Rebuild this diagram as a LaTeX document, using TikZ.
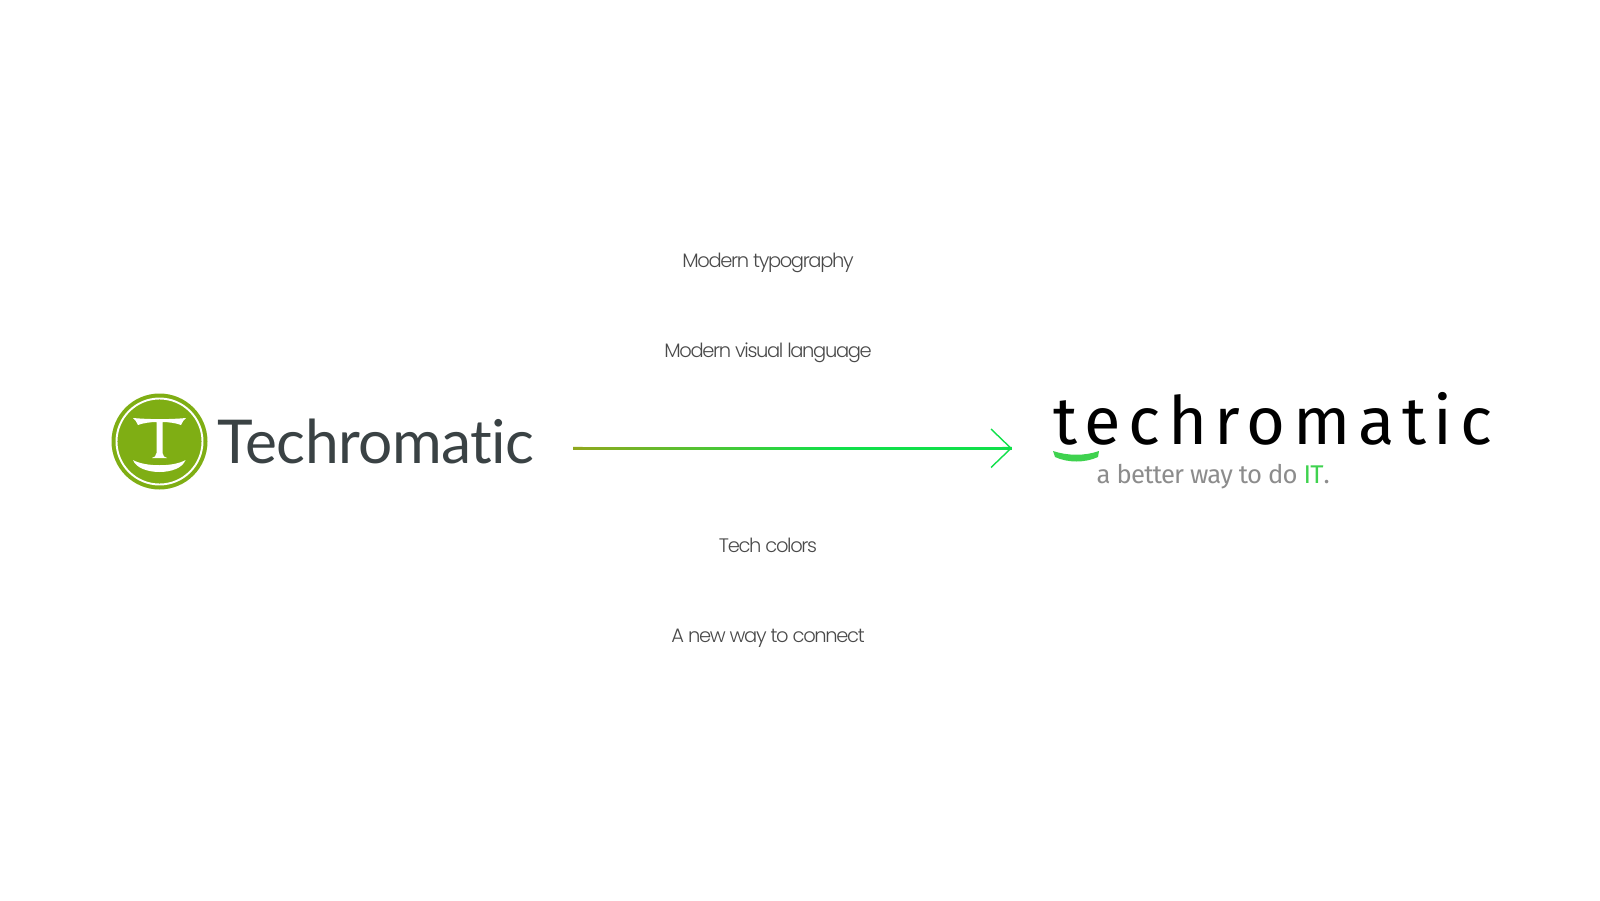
\documentclass[tikz,border=0pt]{standalone}
\usepackage{fontspec}
\usepackage{xcolor}
\usetikzlibrary{positioning,calc}
\newfontfamily\oldlogofont[LetterSpace=-1,Ligatures=NoCommon]{Lato}
\newfontfamily\newlogofont[LetterSpace=11.5,Ligatures=NoCommon]{Fira Sans}
\newfontfamily\tagfont[LetterSpace=-3]{Fira Sans}
\newfontfamily\capfont[LetterSpace=-7]{Poppins Light}
\definecolor{oldgreen}{HTML}{7FAE14}
\definecolor{newgreen}{HTML}{3FD24F}
\definecolor{arrowgreen}{HTML}{10E04A}
\definecolor{arrowolive}{HTML}{8FA81E}
\definecolor{olddark}{HTML}{3A4244}
\definecolor{taggray}{HTML}{8C8C8C}
\definecolor{capgray}{HTML}{4A4A4A}
\begin{document}
\begin{tikzpicture}[
    caption/.style={font=\capfont\fontsize{5.55}{8}\selectfont, text=capgray, anchor=base, inner sep=0pt},
    arrline/.style={line width=0.85pt},
]
\useasboundingbox (0,0) rectangle (16,9);

% ===== Old logo =====
\node[circle, fill=oldgreen, minimum size=0.96cm, inner sep=0pt] at (1.595,4.585) (oldmark) {};
\draw[white, line width=0.55pt] (oldmark.center) circle (0.43);
\fill[white] (1.33,4.82) .. controls (1.5,4.805) and (1.7,4.805) .. (1.86,4.82)
    .. controls (1.84,4.80) and (1.82,4.78) .. (1.81,4.75)
    .. controls (1.76,4.77) and (1.68,4.78) .. (1.625,4.78)
    -- (1.625,4.47) .. controls (1.625,4.44) and (1.65,4.425) .. (1.67,4.42)
    -- (1.52,4.42) .. controls (1.54,4.425) and (1.565,4.44) .. (1.565,4.47)
    -- (1.565,4.78) .. controls (1.51,4.78) and (1.43,4.77) .. (1.38,4.75)
    .. controls (1.37,4.78) and (1.35,4.80) .. (1.33,4.82) -- cycle;
\fill[white] (1.33,4.40) .. controls (1.45,4.33) and (1.74,4.33) .. (1.855,4.40)
    .. controls (1.80,4.24) and (1.39,4.24) .. (1.33,4.40) -- cycle;
\node[font=\oldlogofont\fontsize{17.2}{22}\selectfont, text=olddark, anchor=base west, inner sep=0pt] at (2.17,4.37) (oldname) {Techromatic};

% ===== New logo =====
\node[font=\newlogofont\fontsize{19}{22}\selectfont, text=black, anchor=base west, inner sep=0pt] at (10.53,4.56) (newname) {techromatic};
\fill[newgreen] (10.53,4.49) .. controls (10.68,4.44) and (10.85,4.44) .. (10.99,4.49)
    -- (10.98,4.43) .. controls (10.85,4.37) and (10.68,4.37) .. (10.55,4.43) -- cycle;
\node[font=\tagfont\fontsize{7.3}{9}\selectfont, text=taggray, anchor=base west, inner sep=0pt] at (10.96,4.17) (tagline)
    {a better way to do \textcolor{newgreen}{IT}.};

% ===== Arrow =====
\coordinate (arrstart) at (5.73,4.517);
\coordinate (arrtip) at (10.11,4.517);
\foreach \p in {0,2,...,98} {
    \pgfmathsetmacro{\mixval}{min(100,\p*1.7)}
    \pgfmathsetmacro{\nextp}{\p+2.2}
    \draw[arrline, color=arrowgreen!\mixval!arrowolive]
        ($(arrstart)!\p/100!(arrtip)$) -- ($(arrstart)!\nextp/100!(arrtip)$);
}
\draw[arrowgreen, line width=0.4pt] (9.91,4.71) -- (arrtip) -- (9.91,4.325);

% ===== Captions =====
\node[caption] at (7.68,6.33) (captypo) {Modern typography};
\node[caption] at (7.68,5.43) (capvisual) {Modern visual language};
\node[caption] at (7.68,3.48) (capcolors) {Tech colors};
\node[caption] at (7.68,2.58) (capconnect) {A new way to connect};

\end{tikzpicture}
\end{document}
